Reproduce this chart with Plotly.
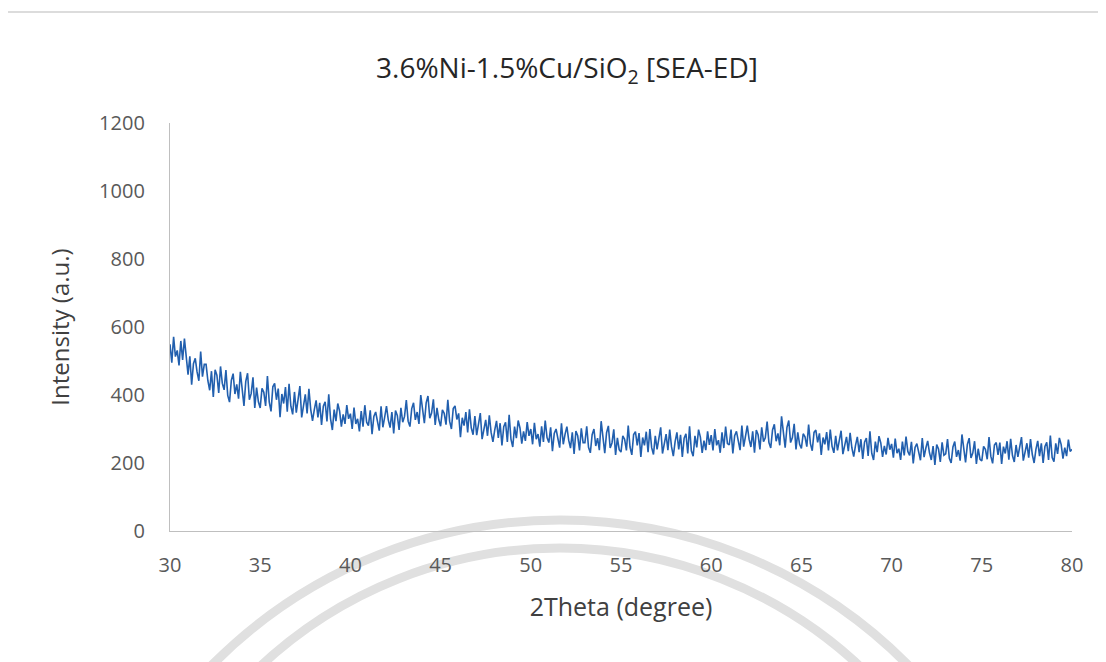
import plotly.graph_objects as go

# 2Theta sampling (degree)
theta_start = 30.0
theta_step = 0.1

# Intensity values (a.u.), one row per degree (30..80)
intensity = [
    549, 495, 571, 513, 531, 487, 559, 503, 566, 519,
    460, 514, 430, 492, 508, 468, 442, 528, 454, 490,
    490, 442, 414, 470, 394, 474, 458, 406, 484, 434,
    415, 473, 399, 379, 443, 463, 403, 431, 389, 468,
    424, 368, 440, 464, 386, 404, 452, 362, 422, 380,
    362, 420, 408, 368, 456, 380, 352, 424, 434, 386,
    419, 335, 403, 375, 423, 351, 433, 367, 343, 409,
    348, 384, 426, 334, 366, 402, 346, 418, 358, 324,
    357, 384, 334, 377, 312, 367, 380, 322, 402, 330,
    297, 357, 323, 375, 353, 307, 343, 315, 370, 330,
    345, 300, 363, 315, 330, 293, 353, 307, 370, 320,
    310, 355, 285, 337, 350, 317, 295, 367, 305, 335,
    367, 327, 304, 350, 287, 354, 340, 297, 362, 320,
    337, 385, 323, 307, 360, 377, 327, 350, 315, 400,
    364, 317, 377, 397, 332, 347, 387, 312, 362, 327,
    308, 356, 346, 313, 386, 323, 300, 360, 368, 328,
    346, 276, 333, 310, 350, 290, 358, 303, 283, 338,
    282, 312, 347, 270, 297, 327, 280, 340, 290, 262,
    297, 324, 274, 317, 252, 307, 320, 262, 342, 270,
    247, 307, 273, 325, 303, 257, 293, 265, 320, 280,
    300, 255, 318, 270, 285, 248, 308, 262, 325, 275,
    260, 305, 235, 287, 300, 267, 245, 317, 255, 285,
    307, 267, 244, 290, 227, 294, 280, 237, 302, 260,
    260, 308, 246, 230, 283, 300, 250, 273, 238, 323,
    276, 229, 289, 309, 244, 259, 299, 224, 274, 239,
    232, 280, 270, 237, 310, 247, 224, 284, 292, 252,
    288, 218, 275, 252, 292, 232, 300, 245, 225, 280,
    240, 270, 305, 228, 255, 285, 238, 298, 248, 220,
    263, 290, 240, 283, 218, 273, 286, 228, 308, 236,
    220, 280, 246, 298, 276, 230, 266, 238, 293, 253,
    282, 237, 300, 252, 267, 230, 290, 244, 307, 257,
    253, 298, 228, 280, 293, 260, 238, 310, 248, 278,
    310, 270, 247, 293, 230, 297, 283, 240, 305, 263,
    274, 322, 260, 244, 297, 314, 264, 287, 252, 337,
    292, 245, 305, 325, 260, 275, 315, 240, 290, 255,
    243, 286, 277, 248, 313, 257, 236, 290, 297, 261,
    287, 224, 275, 255, 291, 237, 298, 249, 230, 280,
    237, 264, 295, 226, 251, 277, 235, 289, 244, 219,
    252, 277, 232, 270, 212, 261, 273, 221, 293, 228,
    209, 263, 232, 279, 259, 218, 250, 225, 274, 239,
    256, 216, 272, 229, 242, 209, 263, 222, 278, 234,
    222, 262, 199, 246, 257, 228, 208, 273, 217, 244,
    265, 230, 209, 250, 194, 254, 241, 203, 261, 223,
    227, 270, 214, 200, 247, 263, 218, 238, 207, 284,
    244, 202, 255, 273, 215, 229, 264, 197, 242, 211,
    206, 249, 240, 211, 276, 220, 199, 253, 260, 224,
    260, 197, 248, 228, 264, 210, 271, 222, 203, 253,
    218, 245, 276, 207, 232, 258, 216, 270, 225, 200,
    240, 265, 220, 258, 200, 249, 261, 209, 281, 216,
    204, 258, 227, 274, 254, 213, 245, 220, 269, 234,
    240,
]
two_theta = [round(theta_start + i * theta_step, 2) for i in range(len(intensity))]

x_ticks = [30, 35, 40, 45, 50, 55, 60, 65, 70, 75, 80]
y_ticks = [0, 200, 400, 600, 800, 1000, 1200]

title_text = "3.6%Ni-1.5%Cu/SiO<sub>2</sub> [SEA-ED]"
x_title = "2Theta (degree)"
y_title = "Intensity (a.u.)"

FONT = "Open Sans, Lato, sans-serif"

fig = go.Figure()
fig.add_trace(go.Scatter(
    x=two_theta, y=intensity, mode="lines",
    line=dict(color="#215FAE", width=1.6),
    showlegend=False, hoverinfo="skip",
))

W, H = 1106, 662
ml, mr, mt, mb = 162, 42, 115, 139
pw, ph = W - ml - mr, H - mt - mb
OFF = 8  # page offset of the figure inside the window


def px(xpix):
    return (xpix - OFF - ml) / pw


def py(ypix):
    return (H - mb - (ypix - OFF)) / ph


fig.update_layout(
    width=W, height=H,
    margin=dict(l=ml, r=mr, t=mt, b=mb, autoexpand=False),
    paper_bgcolor="white", plot_bgcolor="rgba(0,0,0,0)",
    font=dict(family=FONT, color="#595959"),
    title=dict(text=title_text, x=(567 - OFF) / W, xanchor="center",
               y=1 - (68 - OFF) / H, yanchor="middle", yref="container",
               font=dict(size=28, color="#262626", family=FONT)),
    xaxis=dict(range=[30, 80], tickvals=x_ticks, showgrid=False, zeroline=False,
               showline=True, linecolor="#BFBFBF", linewidth=1.3, ticks="",
               tickfont=dict(size=20, color="#595959"), ticklabelstandoff=16,
               title=dict(text=x_title, standoff=21,
                          font=dict(size=25, color="#404040"))),
    yaxis=dict(range=[0, 1200], tickvals=y_ticks, showgrid=False, zeroline=False,
               showline=True, linecolor="#BFBFBF", linewidth=1.3, ticks="",
               tickfont=dict(size=20, color="#595959"), ticklabelstandoff=20,
               title=dict(text=y_title, standoff=22,
                          font=dict(size=24, color="#404040"))),
)

# Outer chart frame (light gray top border)
fig.add_shape(type="line", xref="paper", yref="paper",
              x0=px(5), x1=px(1110), y0=py(12), y1=py(12),
              line=dict(color="#D0D0D0", width=1.5), layer="below")

# Faint background watermark arcs
fig.add_shape(type="circle", xref="paper", yref="paper",
              x0=px(70), x1=px(1050), y0=py(1500), y1=py(520),
              line=dict(color="#E0E0E0", width=9), layer="below")
fig.add_shape(type="circle", xref="paper", yref="paper",
              x0=px(121), x1=px(999), y0=py(1426), y1=py(548),
              line=dict(color="#E0E0E0", width=9), layer="below")

fig.write_html("out.html")
